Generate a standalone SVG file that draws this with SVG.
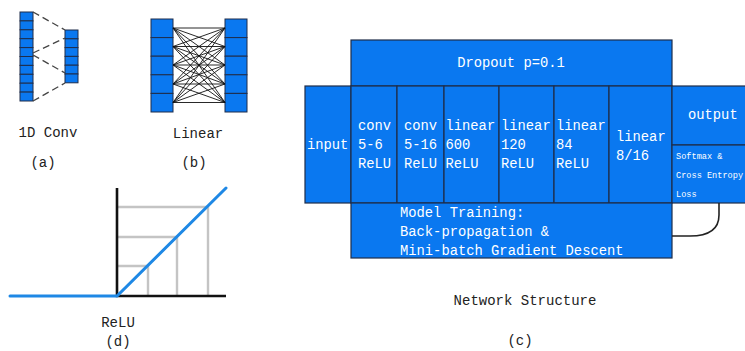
<svg xmlns="http://www.w3.org/2000/svg" width="745" height="351" viewBox="0 0 745 351">
  <style>
    .blk { fill: #0a78f0; stroke: #1f2d4a; stroke-width: 1.2; }
    .cell { fill: #0a78f0; stroke: #1f2d4a; stroke-width: 1; }
    .t { font-family: "Liberation Mono", "DejaVu Sans Mono", monospace; font-size: 13.8px; fill: #ffffff; }
    .ts { font-family: "Liberation Mono", "DejaVu Sans Mono", monospace; font-size: 8.6px; fill: #ffffff; }
    .cap { font-family: "Liberation Mono", "DejaVu Sans Mono", monospace; font-size: 14px; fill: #222222; text-anchor: middle; }
    .dash { stroke: #444444; stroke-width: 1.3; stroke-dasharray: 7 4; fill: none; }
    .fc { stroke: #111111; stroke-width: 0.9; fill: none; }
    .grid { stroke: #c4c4c4; stroke-width: 2.4; fill: none; }
    .axis { stroke: #111111; stroke-width: 2.6; fill: none; }
    .relu { stroke: #1e88e5; stroke-width: 3; fill: none; stroke-linecap: round; }
  </style>

  <!-- (a) 1D convolution -->
  <g id="conv1d">
    <g id="conv-in">
      <rect class="cell" x="20" y="12" width="13" height="8.9"/>
      <rect class="cell" x="20" y="20.9" width="13" height="8.9"/>
      <rect class="cell" x="20" y="29.8" width="13" height="8.9"/>
      <rect class="cell" x="20" y="38.7" width="13" height="8.9"/>
      <rect class="cell" x="20" y="47.6" width="13" height="8.9"/>
      <rect class="cell" x="20" y="56.5" width="13" height="8.9"/>
      <rect class="cell" x="20" y="65.4" width="13" height="8.9"/>
      <rect class="cell" x="20" y="74.3" width="13" height="8.9"/>
      <rect class="cell" x="20" y="83.2" width="13" height="8.9"/>
      <rect class="cell" x="20" y="92.1" width="13" height="8.9"/>
    </g>
    <g id="conv-out">
      <rect class="cell" x="65" y="30" width="13" height="8.8"/>
      <rect class="cell" x="65" y="38.8" width="13" height="8.8"/>
      <rect class="cell" x="65" y="47.6" width="13" height="8.8"/>
      <rect class="cell" x="65" y="56.4" width="13" height="8.8"/>
      <rect class="cell" x="65" y="65.2" width="13" height="8.8"/>
      <rect class="cell" x="65" y="74" width="13" height="8.8"/>
    </g>
    <text class="cap" x="48" y="137">1D Conv</text>
    <text class="cap" x="43" y="167">(a)</text>
  </g>

  <!-- (b) fully connected layer -->
  <g id="linear">
    <g id="lin-in">
      <rect class="cell" x="151" y="19" width="22" height="18.6"/>
      <rect class="cell" x="151" y="37.6" width="22" height="18.6"/>
      <rect class="cell" x="151" y="56.2" width="22" height="18.6"/>
      <rect class="cell" x="151" y="74.8" width="22" height="18.6"/>
      <rect class="cell" x="151" y="93.4" width="22" height="18.6"/>
    </g>
    <g id="lin-out">
      <rect class="cell" x="225" y="19" width="22" height="18.6"/>
      <rect class="cell" x="225" y="37.6" width="22" height="18.6"/>
      <rect class="cell" x="225" y="56.2" width="22" height="18.6"/>
      <rect class="cell" x="225" y="74.8" width="22" height="18.6"/>
      <rect class="cell" x="225" y="93.4" width="22" height="18.6"/>
    </g>
    <text class="cap" x="198" y="138">Linear</text>
    <text class="cap" x="194" y="167">(b)</text>
  </g>

  <!-- (d) ReLU plot -->
  <g id="relu-plot">
    <path class="grid" d="M117 207 H208 V296 M117 237 H177 V296 M117 266 H148 V296"/>
    <path class="axis" d="M117 188 V296 H226"/>
    <path class="relu" d="M10 296 H117 L226 188"/>
    <text class="cap" x="118" y="327">ReLU</text>
    <text class="cap" x="118" y="346">(d)</text>
  </g>

  <!-- (c) network structure -->
  <g id="dropout">
    <rect class="blk" x="351" y="40" width="321" height="46"/>
    <text class="t" x="511" y="67" text-anchor="middle">Dropout p=0.1</text>
  </g>
  <g id="input">
    <rect class="blk" x="305" y="86" width="46" height="117"/>
    <text class="t" x="307" y="149">input</text>
  </g>
  <g id="conv1">
    <rect class="blk" x="351" y="86" width="46" height="117"/>
    <text class="t" x="358" y="130">conv</text>
    <text class="t" x="358" y="149">5-6</text>
    <text class="t" x="358" y="168">ReLU</text>
  </g>
  <g id="conv2">
    <rect class="blk" x="397" y="86" width="47" height="117"/>
    <text class="t" x="404" y="130">conv</text>
    <text class="t" x="404" y="149">5-16</text>
    <text class="t" x="404" y="168">ReLU</text>
  </g>
  <g id="fc600">
    <rect class="blk" x="444" y="86" width="55" height="117"/>
    <text class="t" x="445.5" y="130">linear</text>
    <text class="t" x="445.5" y="149">600</text>
    <text class="t" x="445.5" y="168">ReLU</text>
  </g>
  <g id="fc120">
    <rect class="blk" x="499" y="86" width="55" height="117"/>
    <text class="t" x="501" y="130">linear</text>
    <text class="t" x="501" y="149">120</text>
    <text class="t" x="501" y="168">ReLU</text>
  </g>
  <g id="fc84">
    <rect class="blk" x="554" y="86" width="55" height="117"/>
    <text class="t" x="556" y="130">linear</text>
    <text class="t" x="556" y="149">84</text>
    <text class="t" x="556" y="168">ReLU</text>
  </g>
  <g id="fc-out">
    <rect class="blk" x="609" y="86" width="63" height="117"/>
    <text class="t" x="616" y="141">linear</text>
    <text class="t" x="616" y="160">8/16</text>
  </g>
  <g id="output">
    <rect class="blk" x="672" y="86" width="80" height="59"/>
    <text class="t" x="688" y="119">output</text>
  </g>
  <g id="loss">
    <rect class="blk" x="672" y="145" width="80" height="58"/>
    <text class="ts" x="676" y="158.5">Softmax &amp;</text>
    <text class="ts" x="676" y="177.5">Cross Entropy</text>
    <text class="ts" x="676" y="196.5">Loss</text>
  </g>
  <g id="training">
    <rect class="blk" x="351" y="203" width="321" height="55"/>
    <text class="t" x="400" y="217">Model Training:</text>
    <text class="t" x="400" y="236">Back-propagation &amp;</text>
    <text class="t" x="400" y="255">Mini-batch Gradient Descent</text>
  </g>
  <text class="cap" x="525" y="305">Network Structure</text>
  <text class="cap" x="520" y="345">(c)</text>

  <g id="connectors">
    <!-- receptive field of the 1D convolution -->
    <path class="dash" d="M33 12 L65 30 M33 53 L65 38 M33 55 L65 73 M33 101 L65 83"/>
    <!-- dense connections -->
    <path class="fc" d="
      M173 28 L225 28 M173 28 L225 46.5 M173 28 L225 65 M173 28 L225 84 M173 28 L225 102.5
      M173 46.5 L225 28 M173 46.5 L225 46.5 M173 46.5 L225 65 M173 46.5 L225 84 M173 46.5 L225 102.5
      M173 65 L225 28 M173 65 L225 46.5 M173 65 L225 65 M173 65 L225 84 M173 65 L225 102.5
      M173 84 L225 28 M173 84 L225 46.5 M173 84 L225 65 M173 84 L225 84 M173 84 L225 102.5
      M173 102.5 L225 28 M173 102.5 L225 46.5 M173 102.5 L225 65 M173 102.5 L225 84 M173 102.5 L225 102.5"/>
    <!-- loss feeding back into training -->
    <path d="M719 203 V215 C719 230 707 236 690 236 H672" fill="none" stroke="#222222" stroke-width="1.6"/>
  </g>
</svg>
